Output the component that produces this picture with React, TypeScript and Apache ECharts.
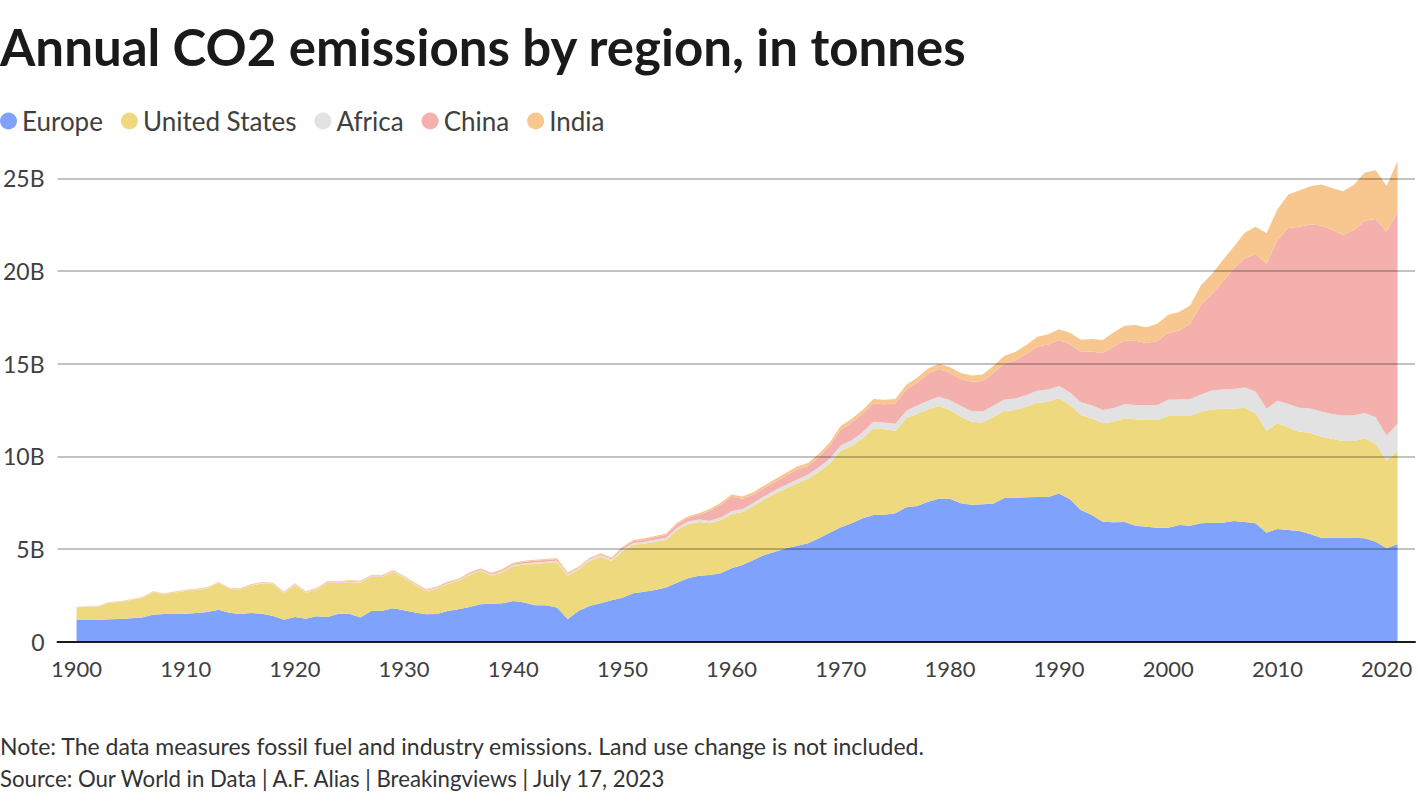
import React, { useEffect, useRef } from "react";
import * as echarts from "echarts";

const startYear = 1900;
const endYear = 2021;

const europe = [
  1.17, 1.17, 1.17, 1.21, 1.22, 1.26, 1.31, 1.46, 1.49, 1.49,
  1.51, 1.55, 1.60, 1.73, 1.56, 1.49, 1.55, 1.51, 1.39, 1.19,
  1.33, 1.24, 1.37, 1.33, 1.51, 1.51, 1.31, 1.66, 1.67, 1.80,
  1.69, 1.58, 1.48, 1.49, 1.66, 1.75, 1.87, 2.02, 2.05, 2.07,
  2.20, 2.12, 1.96, 1.96, 1.85, 1.22, 1.67, 1.93, 2.07, 2.23,
  2.37, 2.61, 2.70, 2.79, 2.93, 3.18, 3.42, 3.56, 3.60, 3.69,
  3.96, 4.14, 4.41, 4.68, 4.85, 5.04, 5.18, 5.31, 5.58, 5.88,
  6.17, 6.39, 6.66, 6.83, 6.85, 6.93, 7.25, 7.32, 7.55, 7.71,
  7.71, 7.47, 7.39, 7.41, 7.45, 7.75, 7.77, 7.79, 7.80, 7.80,
  8.00, 7.68, 7.10, 6.83, 6.47, 6.44, 6.46, 6.26, 6.20, 6.15,
  6.15, 6.29, 6.26, 6.39, 6.42, 6.42, 6.51, 6.46, 6.39, 5.88,
  6.08, 6.02, 5.97, 5.81, 5.61, 5.61, 5.61, 5.61, 5.58, 5.39, 5.04, 5.27,
];

const unitedStates = [
  0.69, 0.72, 0.73, 0.89, 0.92, 0.99, 1.06, 1.21, 1.07, 1.16,
  1.23, 1.25, 1.29, 1.42, 1.28, 1.32, 1.48, 1.63, 1.71, 1.43,
  1.73, 1.39, 1.45, 1.85, 1.66, 1.70, 1.88, 1.84, 1.82, 1.96,
  1.76, 1.49, 1.25, 1.37, 1.46, 1.52, 1.73, 1.79, 1.52, 1.68,
  1.88, 2.05, 2.25, 2.29, 2.45, 2.35, 2.22, 2.43, 2.52, 2.12,
  2.51, 2.62, 2.58, 2.60, 2.56, 2.85, 2.93, 2.90, 2.79, 2.87,
  2.93, 2.86, 2.91, 3.00, 3.15, 3.23, 3.36, 3.48, 3.59, 3.74,
  4.13, 4.17, 4.31, 4.68, 4.61, 4.45, 4.80, 4.98, 4.98, 5.00,
  4.79, 4.67, 4.48, 4.42, 4.69, 4.69, 4.73, 4.89, 5.09, 5.15,
  5.13, 5.09, 5.13, 5.22, 5.31, 5.43, 5.59, 5.74, 5.76, 5.81,
  6.02, 5.88, 5.91, 6.02, 6.11, 6.15, 6.06, 6.16, 5.93, 5.50,
  5.70, 5.54, 5.36, 5.46, 5.45, 5.34, 5.22, 5.22, 5.39, 5.27, 4.72, 5.03,
];

const africa = [
  0.008, 0.009, 0.010, 0.011, 0.012, 0.013, 0.014, 0.015, 0.016, 0.017,
  0.018, 0.019, 0.021, 0.023, 0.022, 0.021, 0.022, 0.024, 0.024, 0.022,
  0.025, 0.024, 0.025, 0.027, 0.028, 0.030, 0.031, 0.033, 0.034, 0.036,
  0.035, 0.032, 0.031, 0.033, 0.036, 0.039, 0.042, 0.046, 0.047, 0.050,
  0.052, 0.055, 0.058, 0.060, 0.061, 0.063, 0.068, 0.074, 0.080, 0.086,
  0.094, 0.101, 0.106, 0.110, 0.115, 0.122, 0.128, 0.134, 0.140, 0.145,
  0.152, 0.160, 0.165, 0.172, 0.185, 0.200, 0.215, 0.225, 0.240, 0.265,
  0.29, 0.31, 0.33, 0.35, 0.36, 0.38, 0.41, 0.44, 0.47, 0.51,
  0.54, 0.57, 0.58, 0.59, 0.60, 0.62, 0.62, 0.63, 0.65, 0.66,
  0.67, 0.68, 0.69, 0.70, 0.72, 0.74, 0.76, 0.77, 0.80, 0.81,
  0.88, 0.90, 0.92, 0.93, 1.02, 1.04, 1.06, 1.10, 1.18, 1.19,
  1.22, 1.27, 1.29, 1.31, 1.36, 1.33, 1.38, 1.39, 1.37, 1.45, 1.37, 1.46,
];

const china = [
  0.002, 0.002, 0.003, 0.003, 0.004, 0.004, 0.005, 0.006, 0.007, 0.008,
  0.010, 0.012, 0.012, 0.014, 0.016, 0.018, 0.020, 0.021, 0.022, 0.024,
  0.026, 0.026, 0.027, 0.028, 0.030, 0.030, 0.028, 0.030, 0.031, 0.033,
  0.035, 0.036, 0.038, 0.040, 0.045, 0.050, 0.055, 0.055, 0.055, 0.065,
  0.075, 0.085, 0.095, 0.095, 0.090, 0.050, 0.040, 0.040, 0.045, 0.050,
  0.079, 0.093, 0.12, 0.13, 0.16, 0.19, 0.21, 0.25, 0.53, 0.68,
  0.78, 0.55, 0.44, 0.43, 0.44, 0.48, 0.53, 0.46, 0.55, 0.68,
  0.85, 0.95, 0.98, 1.00, 0.99, 1.09, 1.13, 1.23, 1.46, 1.49,
  1.47, 1.46, 1.57, 1.64, 1.77, 1.95, 2.06, 2.21, 2.39, 2.42,
  2.48, 2.60, 2.72, 2.90, 3.06, 3.32, 3.43, 3.47, 3.35, 3.45,
  3.60, 3.72, 4.05, 4.85, 5.21, 5.81, 6.51, 6.96, 7.41, 7.82,
  8.67, 9.49, 9.76, 9.94, 10.04, 9.95, 9.74, 9.98, 10.37, 10.70, 11.00, 11.41,
];

const india = [
  0.020, 0.021, 0.022, 0.023, 0.024, 0.025, 0.026, 0.027, 0.028, 0.029,
  0.030, 0.031, 0.032, 0.034, 0.034, 0.035, 0.036, 0.037, 0.037, 0.036,
  0.038, 0.037, 0.036, 0.037, 0.038, 0.040, 0.040, 0.041, 0.042, 0.044,
  0.044, 0.043, 0.040, 0.040, 0.042, 0.043, 0.045, 0.048, 0.050, 0.052,
  0.055, 0.058, 0.058, 0.056, 0.058, 0.058, 0.056, 0.057, 0.060, 0.062,
  0.065, 0.068, 0.070, 0.070, 0.073, 0.078, 0.082, 0.090, 0.097, 0.105,
  0.12, 0.13, 0.14, 0.15, 0.15, 0.16, 0.17, 0.17, 0.18, 0.19,
  0.20, 0.21, 0.22, 0.23, 0.24, 0.25, 0.27, 0.27, 0.28, 0.29,
  0.29, 0.32, 0.34, 0.36, 0.38, 0.42, 0.45, 0.48, 0.52, 0.55,
  0.58, 0.62, 0.65, 0.68, 0.72, 0.77, 0.80, 0.85, 0.86, 0.93,
  0.99, 1.00, 1.00, 1.04, 1.08, 1.17, 1.17, 1.38, 1.47, 1.65,
  1.66, 1.80, 1.96, 2.05, 2.20, 2.24, 2.35, 2.45, 2.60, 2.62, 2.45, 2.75,
];

const seriesNames = ["Europe", "United States", "Africa", "China", "India"];
const seriesColors = ["#7FA3FC", "#EFD97E", "#E2E2E2", "#F4B0AD", "#F8C790"];
const yearTicks = [1900, 1910, 1920, 1930, 1940, 1950, 1960, 1970, 1980, 1990, 2000, 2010, 2020];
const yTicks = [0, 5, 10, 15, 20, 25];

const titleText = "Annual CO2 emissions by region, in tonnes";
const noteText = "Note: The data measures fossil fuel and industry emissions. Land use change is not included.";
const sourceText = "Source: Our World in Data | A.F. Alias | Breakingviews | July 17, 2023";

const FONT = "Lato, 'Noto Sans', sans-serif";

export default function App() {
  const ref = useRef<HTMLDivElement | null>(null);

  useEffect(() => {
    if (!ref.current) return;
    const chart = echarts.init(ref.current, undefined, { renderer: "svg" });
    const years: number[] = [];
    for (let y = startYear; y <= endYear; y++) years.push(y);
    const allValues = [europe, unitedStates, africa, china, india];

    // value first so that the stack is applied to the y (value) dimension
    const series = seriesNames.map((name, k) => ({
      name,
      type: "line",
      stack: "total",
      encode: { x: 1, y: 0 },
      data: years.map((y, i) => [allValues[k][i], y]),
      showSymbol: false,
      symbol: "none",
      lineStyle: { width: 0, color: seriesColors[k] },
      itemStyle: { color: seriesColors[k] },
      areaStyle: { color: seriesColors[k], opacity: 1 },
    }));

    // 25B gridline at y=178.3, 0 at y=641.7
    const yMax = 26.5;
    const gridTop = 178.3 - (yMax - 25) * 18.536;

    chart.setOption({
      animation: false,
      textStyle: { fontFamily: FONT },
      grid: {
        left: 56,
        right: 5,
        top: gridTop,
        bottom: 158.3,
        containLabel: false,
      },
      legend: {
        left: 0,
        top: 108,
        padding: 0,
        icon: "circle",
        itemWidth: 17,
        itemHeight: 17,
        itemGap: 18,
        selectedMode: false,
        textStyle: { fontSize: 26, color: "#404040", fontFamily: FONT },
        data: seriesNames,
      },
      xAxis: {
        type: "value",
        min: 1898.26,
        max: 2022.6,
        z: 5,
        axisLine: { show: true, lineStyle: { color: "#1a1a1a", width: 2 } },
        axisTick: { show: false },
        splitLine: { show: false },
        axisLabel: {
          customValues: yearTicks,
          formatter: (v: number) => String(v),
          fontSize: 22,
          color: "#404040",
          margin: 16,
          fontFamily: FONT,
        },
      },
      yAxis: {
        type: "value",
        min: 0,
        max: yMax,
        interval: 5,
        z: 4,
        axisLine: { show: false },
        axisTick: { show: false, customValues: yTicks },
        splitLine: { show: true, lineStyle: { color: "rgba(0,0,0,0.24)", width: 2 } },
        axisLabel: {
          formatter: (v: number) => (v === 0 ? "0" : v + "B"),
          fontSize: 23,
          color: "#404040",
          margin: 13,
          fontFamily: FONT,
          customValues: yTicks,
        },
      },
      graphic: [
        {
          type: "text",
          left: 0,
          top: 21,
          style: {
            text: titleText,
            fontSize: 51,
            fontWeight: "bold",
            fontFamily: FONT,
            fill: "#1a1a1a",
          },
        },
        {
          type: "text",
          left: 0,
          top: 734,
          style: { text: noteText, fontSize: 23, fontFamily: FONT, fill: "#333333" },
        },
        {
          type: "text",
          left: 0,
          top: 767,
          style: { text: sourceText, fontSize: 22.2, fontFamily: FONT, fill: "#333333" },
        },
      ],
      series,
    });
    return () => chart.dispose();
  }, []);

  return (
    <div
      ref={ref}
      style={{ position: "fixed", left: 0, top: 0, width: 1420, height: 800, background: "#ffffff" }}
    />
  );
}
